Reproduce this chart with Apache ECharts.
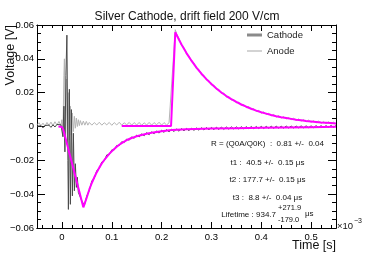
<!DOCTYPE html>
<html><head><meta charset="utf-8">
<script src="https://cdn.jsdelivr.net/npm/echarts@6/dist/echarts.min.js"></script>
<style>html,body{margin:0;padding:0;background:#fff}#c{width:374px;height:255px}</style>
</head><body><div id="c"></div>
<script>
// ---- data (time in units of 1e-3 s, voltage in V) ----
const cathodeTrace = [
[-0.050,0.0002],[-0.046,-0.0006],[-0.042,0.0004],[-0.038,-0.0008],[-0.034,0.0006],[-0.030,-0.0004],[-0.026,0.0008],[-0.022,-0.0005],[-0.018,0.0010],[-0.014,-0.0003],[-0.010,0.0012],[-0.006,0.0004],[-0.002,0.0010],
[0.000,0.002],[0.002,-0.006],[0.004,0.012],[0.006,-0.015],[0.008,0.030],[0.010,0.054],[0.012,-0.020],[0.013,-0.049],[0.015,0.022],[0.017,-0.046],[0.019,0.010],[0.021,-0.041],[0.023,-0.004],[0.025,-0.038],[0.027,-0.022],[0.029,-0.036],[0.031,-0.030],[0.033,-0.039],
[0.035,-0.0380],[0.040,-0.0440],[0.045,-0.0466],[0.050,-0.0410],[0.055,-0.0378],[0.060,-0.0322],[0.065,-0.0305],[0.070,-0.0260],[0.075,-0.0248],[0.080,-0.0210],[0.085,-0.0203],[0.090,-0.0168],[0.095,-0.0166],[0.100,-0.0138],[0.105,-0.0138],[0.110,-0.0112],[0.115,-0.0113],[0.120,-0.0090],[0.125,-0.0095],[0.130,-0.0074],[0.135,-0.0081],[0.140,-0.0061],[0.145,-0.0070],[0.150,-0.0051],[0.155,-0.0062],[0.160,-0.0043],[0.165,-0.0055],[0.170,-0.0036],[0.175,-0.0049],[0.180,-0.0031],[0.185,-0.0043],[0.190,-0.0026],[0.195,-0.0039],[0.200,-0.0022],[0.205,-0.0035],[0.210,-0.0018],[0.215,-0.0032],[0.220,-0.0016],[0.225,-0.0030],[0.230,-0.0014],[0.235,-0.0028],[0.240,-0.0012],[0.245,-0.0026],[0.250,-0.0011],[0.255,-0.0025],[0.260,-0.0010],[0.265,-0.0023],[0.270,-0.0009],[0.275,-0.0022],[0.280,-0.0007],[0.285,-0.0021],[0.290,-0.0006],[0.295,-0.0020],[0.300,-0.0005],[0.305,-0.0019],[0.310,-0.0004],[0.315,-0.0018],[0.320,-0.0003],[0.325,-0.0017],[0.330,-0.0003],[0.335,-0.0016],[0.340,-0.0002],[0.345,-0.0015],[0.350,-0.0002],[0.355,-0.0015],[0.360,-0.0001],[0.365,-0.0014],[0.370,-0.0001],[0.375,-0.0013],[0.380,0.0000],[0.385,-0.0013],[0.390,0.0000],[0.395,-0.0012],[0.400,0.0001],[0.405,-0.0012],[0.410,0.0001],[0.415,-0.0011],[0.420,0.0002],[0.425,-0.0011],[0.430,0.0002],[0.435,-0.0010],[0.440,0.0002],[0.445,-0.0010],[0.450,0.0003],[0.455,-0.0009],[0.460,0.0003],[0.465,-0.0009],[0.470,0.0003],[0.475,-0.0008],[0.480,0.0004],[0.485,-0.0008],[0.490,0.0004],[0.495,-0.0007],[0.500,0.0004],[0.505,-0.0007],[0.510,0.0005],[0.515,-0.0006],[0.520,0.0005],[0.525,-0.0006],[0.530,0.0005],[0.535,-0.0005],[0.540,0.0006],[0.545,-0.0005],[0.550,0.0006]
];
const anodeTrace = [
[-0.050,0.0010],[-0.046,0.0022],[-0.042,0.0004],[-0.038,0.0020],[-0.034,0.0002],[-0.030,0.0024],[-0.026,0.0006],[-0.022,0.0026],[-0.018,0.0004],[-0.014,0.0028],[-0.010,0.0008],[-0.006,0.0030],[-0.002,0.0006],
[0.000,0.004],[0.002,-0.006],[0.004,0.030],[0.005,0.040],[0.007,-0.008],[0.009,0.028],[0.011,-0.010],[0.013,0.020],[0.015,-0.008],[0.017,0.012],[0.019,-0.005],[0.021,0.008],[0.023,-0.003],[0.025,0.006],[0.027,-0.001],[0.029,0.005],[0.031,0.000],[0.033,0.004],[0.035,0.0005],[0.037,0.0035],[0.040,0.0008],[0.043,0.0032],[0.046,0.0008],[0.049,0.0030],[0.052,0.0008],
[0.055,0.0024],[0.060,0.0008],[0.065,0.0023],[0.070,0.0009],[0.075,0.0025],[0.080,0.0008],[0.085,0.0022],[0.090,0.0010],[0.095,0.0024],[0.100,0.0007],[0.105,0.0023],[0.110,0.0009],[0.115,0.0025],[0.120,0.0008],[0.125,0.0022],[0.130,0.0010],[0.135,0.0024],[0.140,0.0008],[0.145,0.0023],[0.150,0.0009],[0.155,0.0024],[0.160,0.0007],[0.165,0.0022],[0.170,0.0009],[0.175,0.0024],[0.180,0.0008],[0.185,0.0023],[0.190,0.0010],[0.195,0.0025],[0.200,0.0008],[0.205,0.0023],[0.210,0.0009],[0.215,0.0022],
[0.2187,0.0012],[0.2275,0.0572],[0.230,0.0548],[0.235,0.0520],[0.240,0.0479],[0.245,0.0466],[0.250,0.0428],[0.255,0.0418],[0.260,0.0383],[0.265,0.0375],[0.270,0.0342],[0.275,0.0337],[0.280,0.0306],[0.285,0.0302],[0.290,0.0274],[0.295,0.0272],[0.300,0.0245],[0.305,0.0244],[0.310,0.0219],[0.315,0.0220],[0.320,0.0195],[0.325,0.0198],[0.330,0.0174],[0.335,0.0178],[0.340,0.0156],[0.345,0.0160],[0.350,0.0139],[0.355,0.0144],[0.360,0.0124],[0.365,0.0130],[0.370,0.0111],[0.375,0.0118],[0.380,0.0099],[0.385,0.0106],[0.390,0.0088],[0.395,0.0096],[0.400,0.0078],[0.405,0.0087],[0.410,0.0070],[0.415,0.0079],[0.420,0.0062],[0.425,0.0072],[0.430,0.0055],[0.435,0.0065],[0.440,0.0049],[0.445,0.0059],[0.450,0.0044],[0.455,0.0054],[0.460,0.0039],[0.465,0.0050],[0.470,0.0034],[0.475,0.0045],[0.480,0.0031],[0.485,0.0042],[0.490,0.0027],[0.495,0.0038],[0.500,0.0024],[0.505,0.0035],[0.510,0.0021],[0.515,0.0033],[0.520,0.0018],[0.525,0.0030],[0.530,0.0016],[0.535,0.0028],[0.540,0.0014],[0.545,0.0026],[0.550,0.0012]
];
const cathodeFit = [
[-0.007,0],[0.000,-0.0003],[0.003,-0.0020],[0.010,-0.0100],[0.015,-0.0158],[0.020,-0.0215],[0.025,-0.0272],[0.030,-0.0330],[0.035,-0.0386],[0.040,-0.0444],[0.043,-0.0478],[0.045,-0.0462],[0.050,-0.0418],[0.055,-0.0372],[0.060,-0.0334],[0.065,-0.0300],[0.070,-0.0270],[0.075,-0.0243],[0.080,-0.0219],[0.085,-0.0198],[0.090,-0.0179],[0.095,-0.0162],[0.100,-0.0147],[0.105,-0.0133],[0.110,-0.0120],[0.115,-0.0108],[0.120,-0.0098],[0.125,-0.0089],[0.130,-0.0081],[0.135,-0.0074],[0.140,-0.0068],[0.145,-0.0063],[0.150,-0.0058],[0.160,-0.0050],[0.170,-0.0043],[0.180,-0.0037],[0.190,-0.0032],[0.200,-0.0028],[0.220,-0.0021],[0.250,-0.0016],[0.300,-0.0012],[0.350,-0.0010],[0.400,-0.0008],[0.450,-0.0006],[0.500,-0.0004],[0.550,-0.0002]
];
const anodeFit = [
[0.120,0.0003],[0.219,0.0003],[0.2275,0.0557],[0.235,0.0513],[0.240,0.0485],[0.250,0.0434],[0.260,0.0389],[0.270,0.0348],[0.280,0.0312],[0.290,0.0280],[0.300,0.0251],[0.310,0.0225],[0.320,0.0201],[0.330,0.0180],[0.340,0.0162],[0.350,0.0145],[0.360,0.0130],[0.370,0.0117],[0.380,0.0105],[0.390,0.0094],[0.400,0.0084],[0.410,0.0076],[0.420,0.0068],[0.430,0.0061],[0.440,0.0055],[0.450,0.0050],[0.460,0.0045],[0.470,0.0040],[0.480,0.0037],[0.490,0.0033],[0.500,0.0030],[0.510,0.0027],[0.520,0.0024],[0.530,0.0022],[0.540,0.0020],[0.550,0.0018]
];
const seriesNames = ['Cathode', 'Anode'];
const titleText = 'Silver Cathode, drift field 200 V/cm';
const fitLines = ['R = (Q0A/Q0K)  :  0.81 +/-  0.04', 't1 :  40.5 +/-  0.15 \u03bcs', 't2 : 177.7 +/-  0.15 \u03bcs', 't3 :  8.8 +/-  0.04 \u03bcs'];
const lifetime = {main: 'Lifetime : 934.7', up: '+271.9', down: '-179.0', unit: '\u03bcs'};

// ---- chart ----
const FONT = '"Liberation Sans", Arial, Helvetica, sans-serif';
const fmt = v => { if (Math.abs(v) < 1e-9) return '0'; const s = String(+v.toFixed(3)); return s.replace('-', '\u2212'); };

function xAx(pos, split, len, showLabel) {
  return {
    type: 'value', min: -0.05, max: 0.55, splitNumber: split, position: pos,
    axisLine: {show: true, onZero: false, lineStyle: {color: '#000', width: 1}},
    axisTick: {show: true, inside: true, length: len, lineStyle: {color: '#000', width: 1}},
    axisLabel: {show: showLabel, showMinLabel: false, showMaxLabel: false, fontSize: 9.5, fontFamily: FONT, color: '#000', margin: 4, formatter: fmt},
    splitLine: {show: false}, minorTick: {show: false}
  };
}
function yAx(pos, showLabel) {
  return {
    type: 'value', min: -0.06, max: 0.06, interval: 0.02, position: pos,
    axisLine: {show: true, onZero: false, lineStyle: {color: '#000', width: 1}},
    axisTick: {show: true, inside: true, length: 8, lineStyle: {color: '#000', width: 1}},
    minorTick: {show: true, splitNumber: 4, length: 4, lineStyle: {color: '#000', width: 1}},
    axisLabel: {show: showLabel, fontSize: 9.5, fontFamily: FONT, color: '#000', margin: 3, formatter: fmt},
    splitLine: {show: false}
  };
}

const chart = echarts.init(document.getElementById('c'), null, {renderer: 'canvas'});
const txt = (x, y, text, size, align, vAlign, extra) => Object.assign({
  type: 'text', x: x, y: y, silent: true,
  style: {text: text, font: size + 'px ' + FONT, fill: '#111', align: align, verticalAlign: vAlign}
}, extra || {});

chart.setOption({
  animation: false,
  backgroundColor: '#fff',
  title: {text: titleText, left: 'center', top: 6, textStyle: {fontSize: 12, fontWeight: 'normal', fontFamily: FONT, color: '#111'}},
  grid: {left: 37, right: 38, top: 25, bottom: 27, containLabel: false},
  legend: [
    {data: [{name: seriesNames[0], itemStyle: {color: '#8a8a8a'}}], icon: 'rect', left: 247, top: 30, padding: 0, itemWidth: 15, itemHeight: 3, itemGap: 4,
     textStyle: {fontSize: 9.5, fontFamily: FONT, color: '#222', padding: [0, 0, 0, 0]}},
    {data: [{name: seriesNames[1], itemStyle: {color: '#c4c4c4'}}], icon: 'rect', left: 247, top: 46, padding: 0, itemWidth: 15, itemHeight: 1.5, itemGap: 4,
     textStyle: {fontSize: 9.5, fontFamily: FONT, color: '#222'}}
  ],
  xAxis: [xAx('bottom', 6, 6, true), xAx('bottom', 30, 3, false), xAx('top', 6, 6, false), xAx('top', 30, 3, false)],
  yAxis: [yAx('left', true), yAx('right', false)],
  series: [
    {name: seriesNames[1], type: 'line', data: anodeTrace, showSymbol: false, symbol: 'none', lineStyle: {color: '#b4b4b4', width: 1}, itemStyle: {color: '#c4c4c4'}, z: 2},
    {name: seriesNames[0], type: 'line', data: cathodeTrace, showSymbol: false, symbol: 'none', lineStyle: {color: '#4a4a4a', width: 1}, itemStyle: {color: '#8a8a8a'}, z: 3},
    {name: 'fitK', type: 'line', data: cathodeFit, showSymbol: false, symbol: 'none', lineStyle: {color: '#ff00ff', width: 2}, z: 4},
    {name: 'fitA', type: 'line', data: anodeFit, showSymbol: false, symbol: 'none', lineStyle: {color: '#ff00ff', width: 2}, z: 4}
  ],
  graphic: [
    txt(336, 246, 'Time [s]', 12.5, 'right', 'middle'),
    txt(11, 25, 'Voltage [V]', 12.5, 'right', 'middle', {rotation: Math.PI / 2}),
    txt(337, 226, '\u00d710', 9.5, 'left', 'middle'),
    txt(354, 221, '\u22123', 7, 'left', 'middle'),
    txt(267.5, 144, fitLines[0], 8, 'center', 'middle'),
    txt(267.5, 162.3, fitLines[1], 8, 'center', 'middle'),
    txt(267.5, 179.5, fitLines[2], 8, 'center', 'middle'),
    txt(267.5, 197.5, fitLines[3], 8, 'center', 'middle'),
    txt(276, 214.5, lifetime.main, 8, 'right', 'middle'),
    txt(278, 207.5, lifetime.up, 7.5, 'left', 'middle'),
    txt(278, 219.5, lifetime.down, 7.5, 'left', 'middle'),
    txt(305, 214, lifetime.unit, 8, 'left', 'middle')
  ]
});
</script></body></html>
